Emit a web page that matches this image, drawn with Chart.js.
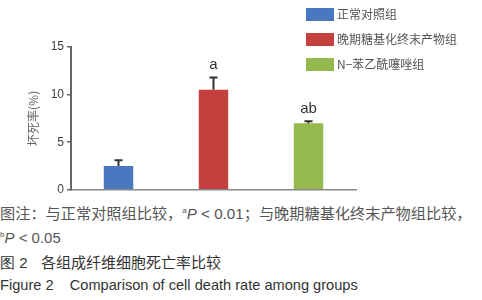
<!DOCTYPE html>
<html>
<head>
<meta charset="utf-8">
<script src="https://cdn.jsdelivr.net/npm/chart.js@4/dist/chart.umd.min.js"></script>
<style>
  body { margin: 0; width: 482px; height: 300px; background: #fff; position: relative; overflow: hidden; font-family: "Noto Sans CJK SC", sans-serif; }
  #chartBox { position: absolute; left: 0; top: 0; width: 482px; height: 200px; }
  #legend { position: absolute; left: 306px; top: 8px; }
  .item { position: absolute; left: 0; white-space: nowrap; }
  .swatch { position: absolute; left: 0; width: 28px; height: 13px; }
  .lbl { position: absolute; left: 31px; top: -3px; font-size: 12px; color: #555; line-height: 18px; }
  .cap { position: absolute; left: 0; white-space: nowrap; color: #555; font-size: 15px; line-height: 20px; }
  .en { font-family: "Liberation Sans", Arial, sans-serif; }
  .sp { font-size: 8px; position: relative; top: -6px; vertical-align: baseline; }
</style>
</head>
<body>
<div id="chartBox"><canvas id="grafico"></canvas></div>
<div id="legend"></div>
<div class="cap" style="top:202px; left:0; font-size:15.2px;">图注：与正常对照组比较，<span class="en"><span class="sp">a</span><i>P</i> &lt; 0.01</span>；与晚期糖基化终末产物组比较，</div>
<div class="cap" style="top:227px;"><span class="en"><span class="sp">b</span><i>P</i> &lt; 0.05</span></div>
<div class="cap" style="top:252px; color:#333;"><span class="en">图 2</span>&nbsp;&nbsp;&nbsp;&nbsp;各组成纤维细胞死亡率比较</div>
<div class="cap en" style="top:275px; color:#333; font-size:14.6px;">Figure 2&nbsp;&nbsp;&nbsp;&nbsp;Comparison of cell death rate among groups</div>
<script>
const grupos = ['正常对照组', '晚期糖基化终末产物组', 'N−苯乙酰噻唑组'];
const tasaMuerte = [2.5, 10.5, 7.0];
const errores = [0.6, 1.3, 0.2];
const marcas = ['', 'a', 'ab'];
const colores = ['#4878c0', '#c4403f', '#94b94e'];
const ticksY = [0, 5, 10, 15];

// leyenda en HTML, fuera del canvas
const legend = document.getElementById('legend');
const tops = [0, 25, 50];
grupos.forEach((g, i) => {
  const item = document.createElement('div');
  item.className = 'item';
  item.style.top = tops[i] + 'px';
  item.innerHTML = '<div class="swatch" style="background:' + colores[i] + '"></div><div class="lbl">' + g + '</div>';
  legend.appendChild(item);
});

const barrasError = {
  id: 'barrasError',
  afterDatasetsDraw(chart) {
    const ctx = chart.ctx;
    const y = chart.scales.y;
    const meta = chart.getDatasetMeta(0);
    ctx.save();
    meta.data.forEach((bar, i) => {
      const y0 = y.getPixelForValue(tasaMuerte[i]);
      const y1 = y.getPixelForValue(tasaMuerte[i] + errores[i]);
      ctx.strokeStyle = '#333';
      ctx.lineWidth = 2;
      ctx.beginPath();
      ctx.moveTo(bar.x, y0);
      ctx.lineTo(bar.x, y1);
      ctx.moveTo(bar.x - 4, y1);
      ctx.lineTo(bar.x + 4, y1);
      ctx.stroke();
      if (marcas[i]) {
        ctx.fillStyle = '#333';
        ctx.font = '15px "Liberation Sans", Arial, sans-serif';
        ctx.textAlign = 'center';
        ctx.textBaseline = 'bottom';
        ctx.fillText(marcas[i], bar.x, y1 - 5);
      }
    });
    ctx.restore();
  }
};

new Chart(document.getElementById('grafico').getContext('2d'), {
  type: 'bar',
  data: {
    labels: grupos,
    datasets: [{
      data: tasaMuerte,
      backgroundColor: colores,
      categoryPercentage: 1,
      barPercentage: 0.31
    }]
  },
  options: {
    responsive: true,
    maintainAspectRatio: false,
    animation: false,
    layout: { padding: { top: 47, right: 126, left: 0, bottom: 0 } },
    plugins: { legend: { display: false }, tooltip: { enabled: false } },
    scales: {
      x: {
        grid: { display: false, drawTicks: false },
        border: { color: '#888', width: 1.5 },
        ticks: { display: false },
        afterFit: s => { s.height = 10; }
      },
      y: {
        min: 0,
        max: 15,
        afterBuildTicks: s => { s.ticks = ticksY.map(v => ({ value: v })); },
        grid: { drawOnChartArea: false, drawTicks: true, tickLength: 4, color: '#666', lineWidth: 1.5 },
        border: { color: '#666', width: 2 },
        ticks: { font: { size: 12, family: '"Liberation Sans", Arial' }, color: '#444', padding: 3 },
        title: {
          display: true,
          text: '坏死率(%)',
          font: { size: 12, family: '"Noto Sans CJK SC"' },
          color: '#666',
          padding: { top: 26, bottom: 0 }
        },
        afterFit: s => { s.width = 71; }
      }
    }
  },
  plugins: [barrasError]
});
</script>
</body>
</html>
